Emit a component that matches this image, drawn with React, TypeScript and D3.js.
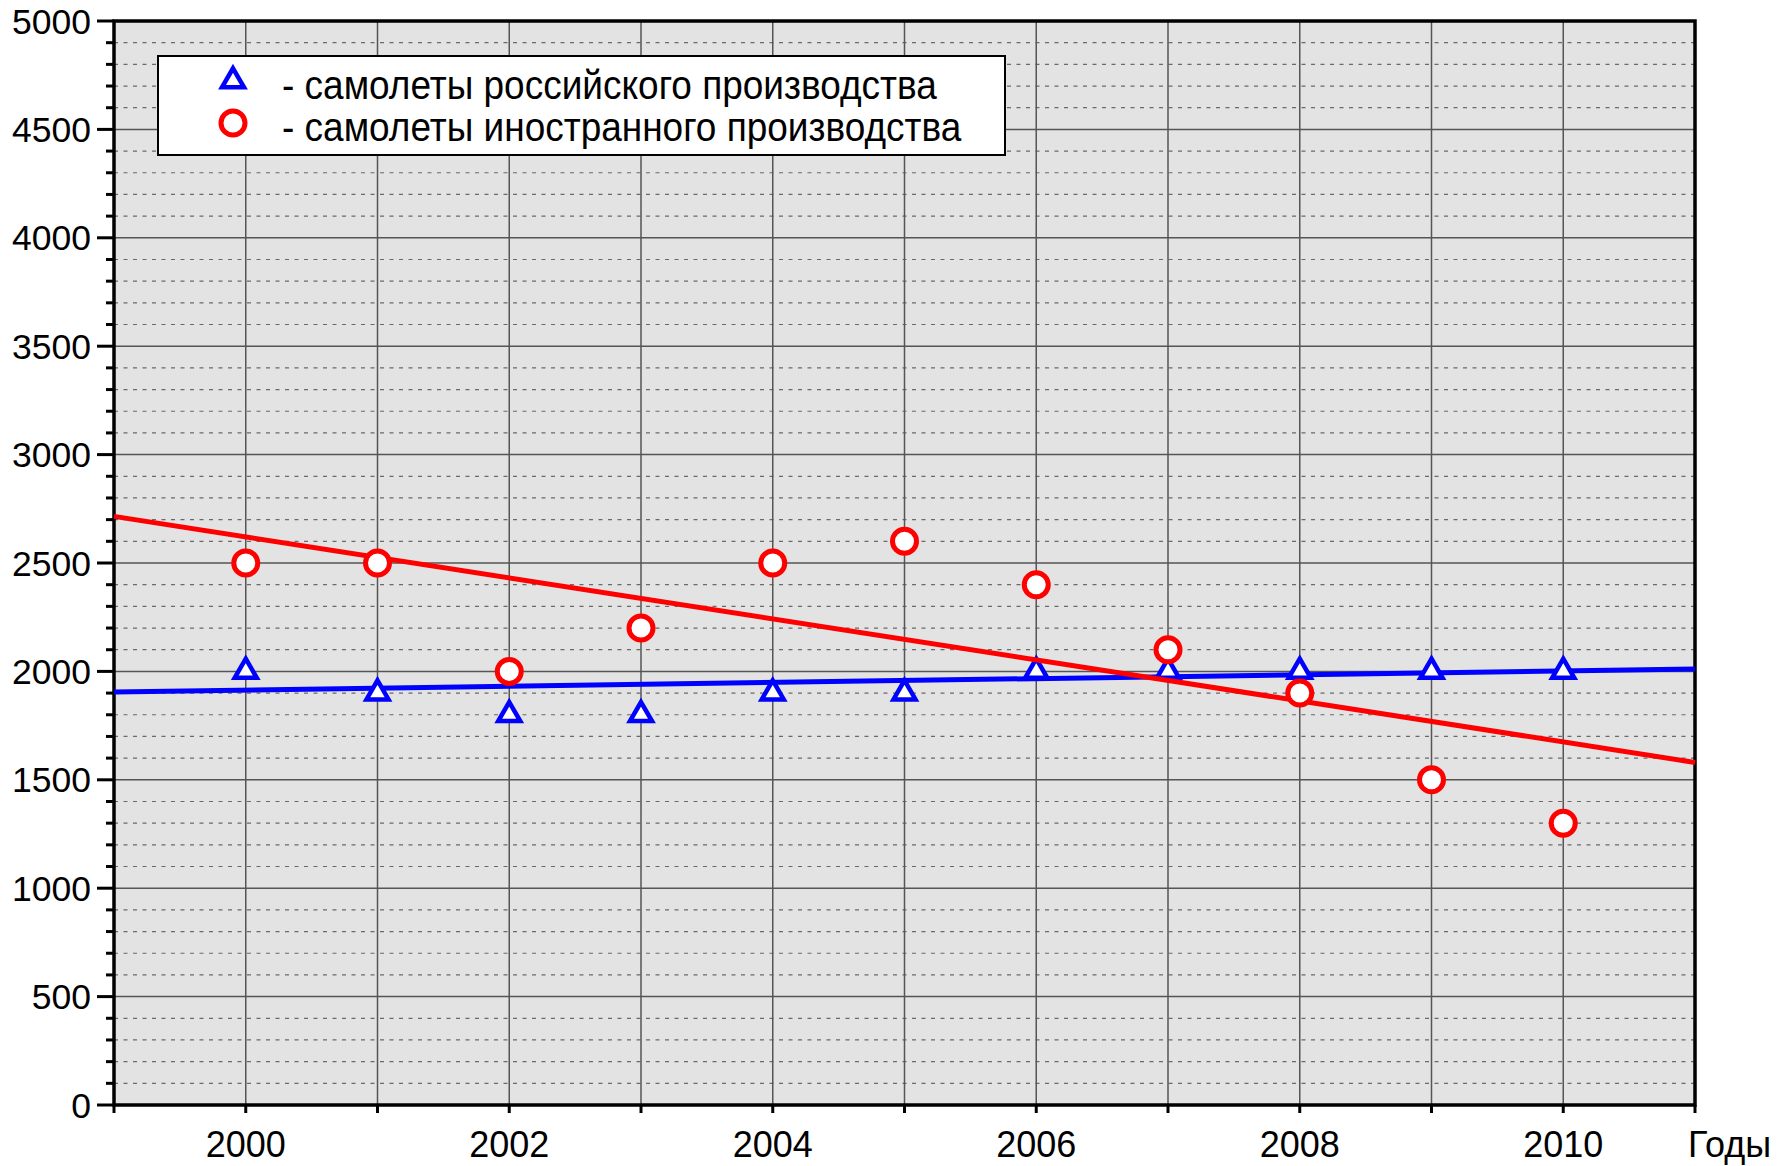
import React from 'react';
import * as d3 from 'd3';

// years on the x axis and the two observed series
const years = [2000, 2001, 2002, 2003, 2004, 2005, 2006, 2007, 2008, 2009, 2010];
const russianPlanes = [2000, 1900, 1800, 1800, 1900, 1900, 2000, 2000, 2000, 2000, 2000];
const foreignPlanes = [2500, 2500, 2000, 2200, 2500, 2600, 2400, 2100, 1900, 1500, 1300];

// trend lines, endpoints
const trendYears = [1999, 2011];
const russianTrend = [1905, 2011];
const foreignTrend = [2715, 1580];

const xLabelYears = [2000, 2002, 2004, 2006, 2008, 2010];
const yTickValues = [0, 500, 1000, 1500, 2000, 2500, 3000, 3500, 4000, 4500, 5000];
const xAxisTitle = 'Годы';
const legendLabels = [
    '- самолеты российского производства',
    '- самолеты иностранного производства',
];

const W = 1787;
const H = 1166;
const margin = { top: 21, right: 92, bottom: 61, left: 114 };
const FONT = '"Liberation Sans", Arial, sans-serif';

const BLUE = '#0000ff';
const RED = '#ff0000';

const App: React.FC = () => {
    const x = d3.scaleLinear().domain([1999, 2011]).range([margin.left, W - margin.right]);
    const y = d3.scaleLinear().domain([0, 5000]).range([H - margin.bottom, margin.top]);

    const [x0, x1] = x.range();
    const [yb, yt] = y.range();

    const minor = d3.range(0, 5001, 100).filter((v) => v % 500 !== 0);
    const allYears = d3.range(1999, 2012);

    const tri = d3.symbol(d3.symbolTriangle, 210)()!;

    const line = d3
        .line<[number, number]>()
        .x((d) => x(d[0]))
        .y((d) => y(d[1]));

    const rusTrend = trendYears.map((t, i) => [t, russianTrend[i]] as [number, number]);
    const forTrend = trendYears.map((t, i) => [t, foreignTrend[i]] as [number, number]);

    return (
        <svg
            width={W}
            height={H}
            style={{ position: 'absolute', left: 0, top: 0, background: '#fff' }}
            fontFamily={FONT}
        >
            <rect x={x0} y={yt} width={x1 - x0} height={yb - yt} fill="#e3e3e3" />

            {/* dashed minor grid */}
            {minor.map((v) => (
                <line
                    key={'m' + v}
                    x1={x0}
                    x2={x1}
                    y1={y(v)}
                    y2={y(v)}
                    stroke="#6a6a6a"
                    strokeWidth={1.2}
                    strokeDasharray="4,5.5"
                />
            ))}
            {/* solid major grid */}
            {yTickValues.slice(1, -1).map((v) => (
                <line key={'g' + v} x1={x0} x2={x1} y1={y(v)} y2={y(v)} stroke="#555" strokeWidth={1.5} />
            ))}
            {years.map((yr) => (
                <line key={'v' + yr} x1={x(yr)} x2={x(yr)} y1={yt} y2={yb} stroke="#555" strokeWidth={1.5} />
            ))}

            {/* frame */}
            <rect x={x0} y={yt} width={x1 - x0} height={yb - yt} fill="none" stroke="#000" strokeWidth={3.5} />

            {/* y ticks */}
            {minor.map((v) => (
                <line key={'mt' + v} x1={x0 - 8} x2={x0} y1={y(v)} y2={y(v)} stroke="#000" strokeWidth={3} />
            ))}
            {yTickValues.map((v) => (
                <g key={'yt' + v}>
                    <line x1={x0 - 17} x2={x0} y1={y(v)} y2={y(v)} stroke="#000" strokeWidth={3} />
                    <text x={x0 - 23} y={y(v) + 12.5} textAnchor="end" fontSize={35.5}>
                        {v}
                    </text>
                </g>
            ))}

            {/* x ticks */}
            {allYears.map((yr) => (
                <line key={'xt' + yr} x1={x(yr)} x2={x(yr)} y1={yb} y2={yb + 8} stroke="#000" strokeWidth={3} />
            ))}
            {xLabelYears.map((yr) => (
                <text key={'xl' + yr} x={x(yr)} y={1157} textAnchor="middle" fontSize={36}>
                    {yr}
                </text>
            ))}
            <text x={1688} y={1157} fontSize={36}>
                {xAxisTitle}
            </text>

            {/* Russian-built series */}
            <path d={line(rusTrend)!} fill="none" stroke={BLUE} strokeWidth={5} />
            {years.map((yr, i) => (
                <path
                    key={'r' + yr}
                    d={tri}
                    transform={`translate(${x(yr)},${y(russianPlanes[i])})`}
                    fill="#fff"
                    stroke={BLUE}
                    strokeWidth={4.5}
                />
            ))}

            {/* foreign-built series */}
            <path d={line(forTrend)!} fill="none" stroke={RED} strokeWidth={5} />
            {years.map((yr, i) => (
                <circle
                    key={'f' + yr}
                    cx={x(yr)}
                    cy={y(foreignPlanes[i])}
                    r={12}
                    fill="#fff"
                    stroke={RED}
                    strokeWidth={5}
                />
            ))}

            {/* legend */}
            <rect x={158} y={56} width={847} height={99} fill="#fff" stroke="#000" strokeWidth={2} />
            <path d={tri} transform="translate(233,81)" fill="#fff" stroke={BLUE} strokeWidth={4.5} />
            <circle cx={233} cy={123} r={12} fill="#fff" stroke={RED} strokeWidth={5} />
            <text transform="translate(282,99) scale(1,1.12)" fontSize={37}>
                {legendLabels[0]}
            </text>
            <text transform="translate(282,141) scale(1,1.12)" fontSize={37}>
                {legendLabels[1]}
            </text>
        </svg>
    );
};

export default App;
